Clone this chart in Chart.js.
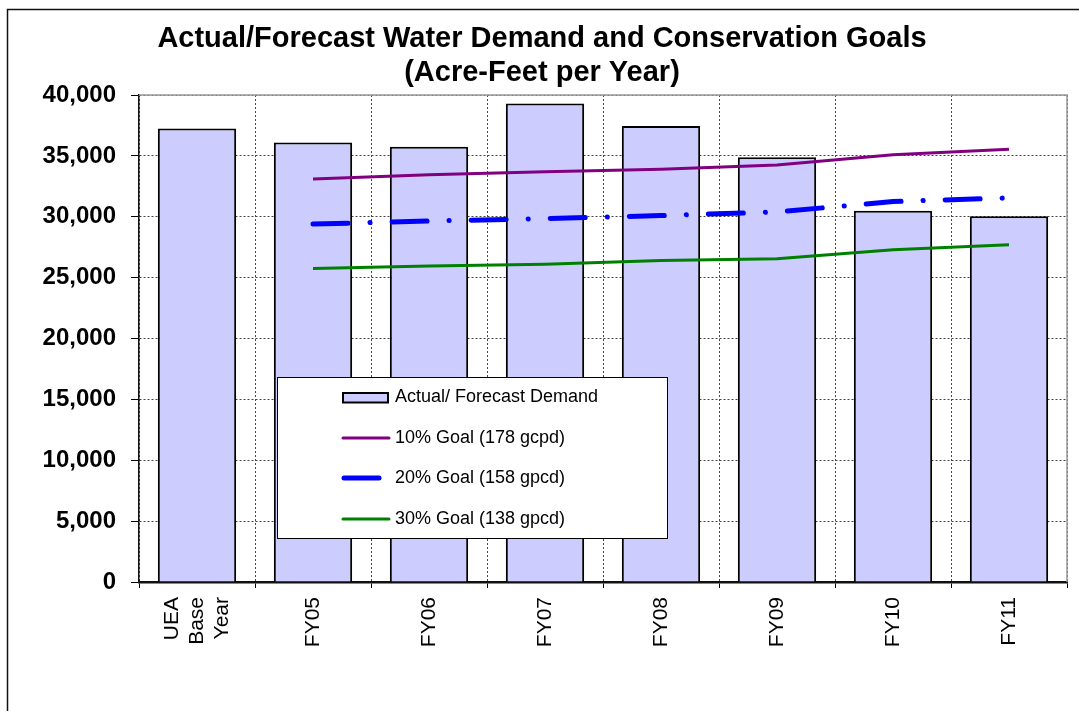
<!DOCTYPE html>
<html><head><meta charset="utf-8">
<script src="https://cdn.jsdelivr.net/npm/chart.js@4.4.1/dist/chart.umd.min.js"></script>
<style>html,body{margin:0;padding:0;background:#fff;}canvas{display:block;}</style>
</head><body>
<canvas id="c" width="1079" height="711"></canvas>
<script>
const categories = [['UEA', 'Base', 'Year'], 'FY05', 'FY06', 'FY07', 'FY08', 'FY09', 'FY10', 'FY11'];
const demand = [37250, 36100, 35750, 39300, 37450, 34900, 30500, 30050];
const goal10 = [null, 33100, 33450, 33700, 33900, 34250, 35100, 35550];
const goal20 = [null, 29400, 29650, 29850, 30100, 30400, 31250, 31550];
const goal30 = [null, 25750, 25950, 26100, 26400, 26550, 27300, 27700];
const yMin = 0, yMax = 40000, yStep = 5000;
const titleLines = ['Actual/Forecast Water Demand and Conservation Goals', '(Acre-Feet per Year)'];
const seriesLabels = ['Actual/ Forecast Demand', '10% Goal (178 gcpd)', '20% Goal (158 gpcd)', '30% Goal (138 gpcd)'];

const FONT = "'Liberation Sans', Arial, sans-serif";
const XFONT = 21, XLH = 1.2;

const outerFrame = {
  id: 'outerFrame',
  beforeDraw(chart) {
    const ctx = chart.ctx;
    ctx.save();
    ctx.fillStyle = '#fff';
    ctx.fillRect(0, 0, chart.width, chart.height);
    ctx.strokeStyle = '#111';
    ctx.lineWidth = 1.5;
    ctx.strokeRect(7.5, 9.5, 1300, 1000);
    ctx.restore();
  }
};

const plotFrame = {
  id: 'plotFrame',
  beforeDatasetsDraw(chart) {
    const a = chart.chartArea, ctx = chart.ctx;
    ctx.save();
    ctx.strokeStyle = '#999';
    ctx.lineWidth = 1.5;
    ctx.beginPath();
    ctx.moveTo(a.left, a.top);
    ctx.lineTo(a.right, a.top);
    ctx.lineTo(a.right, a.bottom);
    ctx.stroke();
    ctx.restore();
  }
};

const centerMultiline = {
  id: 'centerMultiline',
  afterLayout(chart) {
    const xs = chart.scales.x;
    if (!xs || xs.__patched || typeof xs._computeLabelItems !== 'function') return;
    const orig = xs._computeLabelItems;
    xs._computeLabelItems = function (ca) {
      const items = orig.call(this, ca);
      const lh = XFONT * XLH;
      items.forEach(it => {
        if (Array.isArray(it.label) && it.label.length > 1 && it.options && it.options.translation) {
          it.options.translation[0] -= (it.label.length - 1) * lh / 2;
        }
      });
      return items;
    };
    xs.__patched = true;
  }
};

const boxLegend = {
  id: 'boxLegend',
  afterDatasetsDraw(chart) {
    const ctx = chart.ctx;
    const ds = chart.data.datasets;
    ctx.save();
    ctx.fillStyle = '#fff';
    ctx.fillRect(277, 377, 390, 161);
    ctx.strokeStyle = '#000';
    ctx.lineWidth = 1;
    ctx.strokeRect(277.5, 377.5, 390, 161);
    const rows = [397.5, 438, 478, 519];
    ctx.font = '18px ' + FONT;
    ctx.textBaseline = 'middle';
    ctx.textAlign = 'left';
    ds.forEach((d, i) => {
      const y = rows[i];
      if (d.type === 'bar') {
        ctx.fillStyle = d.backgroundColor;
        ctx.fillRect(343, 393, 45, 9.5);
        ctx.strokeStyle = d.borderColor;
        ctx.lineWidth = 2;
        ctx.strokeRect(343, 393, 45, 9.5);
      } else {
        ctx.strokeStyle = d.borderColor;
        ctx.lineWidth = d.borderWidth;
        ctx.lineCap = 'round';
        ctx.beginPath();
        if (d.borderWidth > 4) { ctx.moveTo(344, y); ctx.lineTo(379, y); }
        else { ctx.moveTo(343, y); ctx.lineTo(389, y); }
        ctx.stroke();
      }
      ctx.fillStyle = '#000';
      ctx.fillText(d.label, 395, y);
    });
    ctx.restore();
  }
};

new Chart(document.getElementById('c'), {
  data: {
    labels: categories,
    datasets: [
      { type: 'bar', label: seriesLabels[0], data: demand, backgroundColor: '#CCCCFF', borderColor: '#000', borderWidth: 2, barPercentage: 0.675, categoryPercentage: 1, order: 10 },
      { type: 'line', label: seriesLabels[1], data: goal10, borderColor: '#800080', borderWidth: 3, pointRadius: 0, tension: 0, fill: false, order: 1 },
      { type: 'line', label: seriesLabels[2], data: goal20, borderColor: '#0000FF', borderWidth: 5, borderDash: [35, 22, 0.1, 22], borderCapStyle: 'round', pointRadius: 0, tension: 0, fill: false, order: 1 },
      { type: 'line', label: seriesLabels[3], data: goal30, borderColor: '#008000', borderWidth: 3, pointRadius: 0, tension: 0, fill: false, order: 1 }
    ]
  },
  options: {
    responsive: false,
    animation: false,
    events: [],
    layout: { padding: { left: 17, right: 12, top: 0, bottom: 0 } },
    plugins: {
      legend: { display: false },
      tooltip: { enabled: false },
      title: {
        display: true,
        text: titleLines,
        color: '#000',
        font: { family: FONT, size: 29, weight: 'bold', lineHeight: 1.18 },
        padding: { top: 22, bottom: 4.6 }
      }
    },
    scales: {
      x: {
        offset: true,
        grid: { offset: true, color: '#444', lineWidth: 1, tickLength: 6, tickColor: '#000', tickWidth: 1 },
        border: { display: true, color: '#111', width: 2.5, dash: [2, 2] },
        ticks: { color: '#000', autoSkip: false, minRotation: 90, maxRotation: 90, padding: 9, font: { family: FONT, size: XFONT, lineHeight: XLH } },
        afterFit(s) { s.height = 129; s.paddingLeft = 0; s.paddingRight = 0; }
      },
      y: {
        min: yMin, max: yMax,
        grid: { color: '#444', lineWidth: 1, tickLength: 8, tickColor: '#000', tickWidth: 1 },
        border: { display: true, color: '#111', width: 1.5, dash: [2, 2] },
        ticks: { stepSize: yStep, color: '#000', padding: 15, font: { family: FONT, size: 24, weight: 'bold' },
          callback: v => Number(v).toLocaleString('en-US') },
        afterFit(s) { s.width = 122; s.paddingTop = 0; s.paddingBottom = 0; }
      }
    }
  },
  plugins: [outerFrame, plotFrame, centerMultiline, boxLegend]
});
</script>
</body></html>
